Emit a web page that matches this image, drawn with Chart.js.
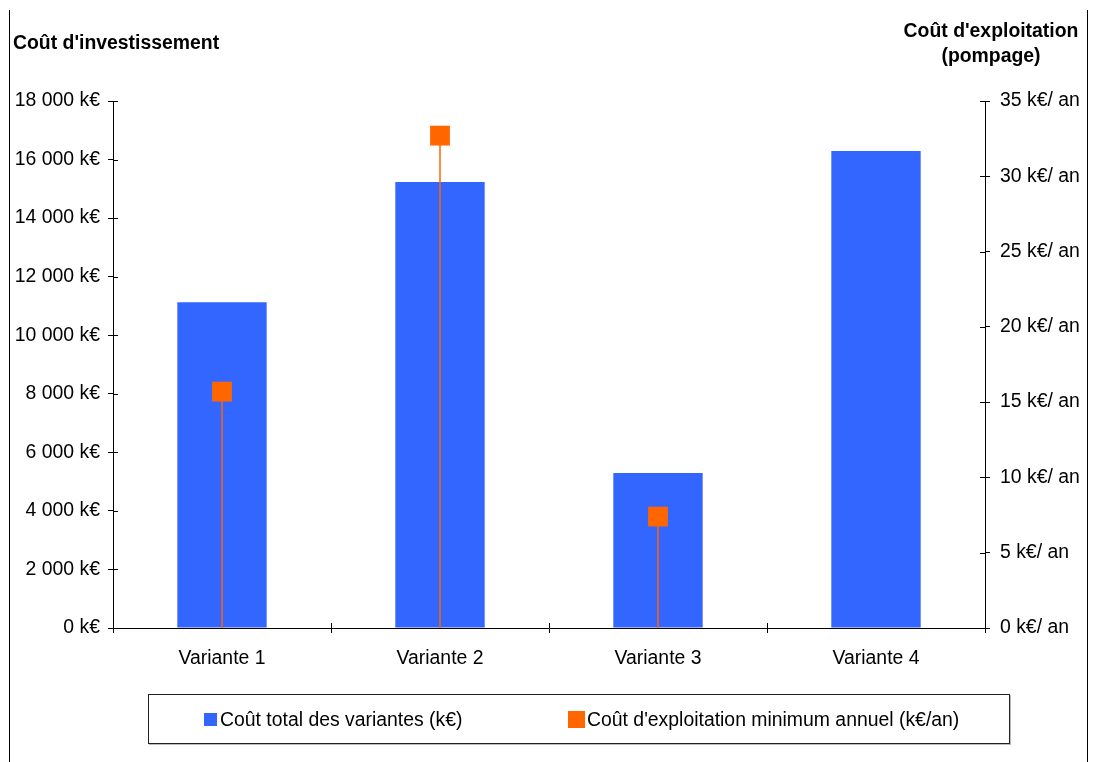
<!DOCTYPE html>
<html lang="fr">
<head>
<meta charset="utf-8">
<title>Coût des variantes</title>
<script src="https://cdn.jsdelivr.net/npm/chart.js@4.4.1/dist/chart.umd.min.js"></script>
<style>
  html, body { margin: 0; padding: 0; background: #fff; }
  #wrap { position: relative; width: 1093px; height: 762px; overflow: hidden;
    font-family: "Liberation Sans", Arial, sans-serif; color: #000; }
  #chart-box { position: absolute; left: 0; top: 0; width: 1093px; height: 762px; }
  .frame { position: absolute; top: 10px; bottom: 0; width: 0; border-left: 1px solid #000; }
  .title { position: absolute; font-weight: bold; font-size: 19.4px; line-height: 25px; white-space: nowrap; }
  #legend { position: absolute; left: 148px; top: 694px; width: 860px; height: 48px;
    border: 1px solid #222; box-shadow: 1px 1px 0 #bbb; font-size: 19.4px; }
  .leg-item { position: absolute; top: 0; height: 48px; display: flex; align-items: center; white-space: nowrap; }
  .sw { display: inline-block; margin-right: 3px; }
</style>
</head>
<body>
<div id="wrap">
  <div id="chart-box"><canvas id="chart"></canvas></div>
  <div class="frame" style="left:9px"></div>
  <div class="frame" style="left:1087px"></div>
  <div class="title" style="left:13px; top:30px;">Coût d'investissement</div>
  <div class="title" style="left:891px; top:18px; width:200px; text-align:center;">Coût d'exploitation<br>(pompage)</div>
  <div id="legend">
    <div class="leg-item" style="left:55px"><span class="sw" style="width:13px;height:13px;background:#3366FF"></span>Coût total des variantes (k€)</div>
    <div class="leg-item" style="left:419px"><span class="sw" style="width:17px;height:17px;background:#FF6600;margin-right:2px"></span>Coût d'exploitation minimum annuel (k€/an)</div>
  </div>
</div>
<script>
// ============================================================
// DONNÉES
// ============================================================
const categories = ["Variante 1", "Variante 2", "Variante 3", "Variante 4"];
const coutTotal = [11130, 15230, 5290, 16290];          // k€
const coutExploitation = [15.7, 32.7, 7.4, null];       // k€ / an
const investMax = 18000, investStep = 2000;
const exploitMax = 35, exploitStep = 5;

const BLUE = "#3366FF";
const ORANGE = "#FF6600";

function fmtMilliers(v) {
  return String(v).replace(/\B(?=(\d{3})+(?!\d))/g, " ");
}

// lignes verticales orange sous les marqueurs
const dropLines = {
  id: "dropLines",
  afterDatasetDraw(chart, args) {
    if (args.index !== 0) return;
    const meta = chart.getDatasetMeta(1);
    const bottom = chart.chartArea.bottom;
    const ctx = chart.ctx;
    ctx.save();
    ctx.strokeStyle = ORANGE;
    ctx.lineWidth = 1.5;
    meta.data.forEach((pt, i) => {
      if (coutExploitation[i] == null || pt.skip) return;
      ctx.beginPath();
      ctx.moveTo(pt.x, pt.y);
      ctx.lineTo(pt.x, bottom);
      ctx.stroke();
    });
    ctx.restore();
  },
};

// graduations qui traversent les axes (partie intérieure)
const innerTicks = {
  id: "innerTicks",
  afterDraw(chart) {
    const { ctx, chartArea, scales } = chart;
    const px = (v) => Math.round(v) + 0.5;
    ctx.save();
    ctx.strokeStyle = "#000";
    ctx.lineWidth = 1;
    ctx.beginPath();
    scales.y.ticks.forEach((t, i) => {
      const y = px(scales.y.getPixelForTick(i));
      ctx.moveTo(chartArea.left, y);
      ctx.lineTo(chartArea.left + 5, y);
    });
    scales.y2.ticks.forEach((t, i) => {
      const y = px(scales.y2.getPixelForTick(i));
      ctx.moveTo(chartArea.right, y);
      ctx.lineTo(chartArea.right - 5, y);
    });
    const x0 = scales.x.getPixelForTick(0);
    const half = (scales.x.getPixelForTick(1) - x0) / 2;
    for (let i = 0; i <= categories.length; i++) {
      const x = px(x0 - half + i * 2 * half);
      ctx.moveTo(x, chartArea.bottom);
      ctx.lineTo(x, chartArea.bottom - 5);
    }
    ctx.stroke();
    ctx.restore();
  },
};

Chart.defaults.font.family = "'Liberation Sans', Arial, sans-serif";
Chart.defaults.font.size = 19.4;
Chart.defaults.color = "#000";

const axisGrid = { drawOnChartArea: false, color: "#000", tickLength: 5, lineWidth: 1 };
const axisBorder = { color: "#000", width: 1 };

new Chart(document.getElementById("chart"), {
  type: "bar",
  data: {
    labels: categories,
    datasets: [
      {
        label: "Coût total des variantes (k€)",
        data: coutTotal,
        backgroundColor: BLUE,
        borderWidth: 0,
        yAxisID: "y",
        categoryPercentage: 1,
        barPercentage: 0.41,
        order: 2,
      },
      {
        type: "line",
        label: "Coût d'exploitation minimum annuel (k€/an)",
        data: coutExploitation,
        yAxisID: "y2",
        showLine: false,
        pointStyle: "rect",
        pointRadius: 14,
        pointBackgroundColor: ORANGE,
        pointBorderWidth: 0,
        order: 1,
      },
    ],
  },
  options: {
    responsive: true,
    maintainAspectRatio: false,
    animation: false,
    events: [],
    layout: { padding: { top: 101, left: 0, right: 0, bottom: 0 } },
    plugins: { legend: { display: false }, tooltip: { enabled: false } },
    scales: {
      x: {
        grid: { ...axisGrid, offset: true },
        border: axisBorder,
        ticks: { padding: 14 },
        afterFit: (s) => { s.height = 134; },
      },
      y: {
        position: "left",
        min: 0,
        max: investMax,
        grid: axisGrid,
        border: axisBorder,
        ticks: { stepSize: investStep, padding: 8, callback: (v) => fmtMilliers(v) + " k€" },
        afterFit: (s) => { s.width = 113; },
      },
      y2: {
        position: "right",
        min: 0,
        max: exploitMax,
        grid: axisGrid,
        border: axisBorder,
        ticks: { stepSize: exploitStep, padding: 10, callback: (v) => v + " k€/ an" },
        afterFit: (s) => { s.width = 108; },
      },
    },
  },
  plugins: [dropLines, innerTicks],
});
</script>
</body>
</html>
